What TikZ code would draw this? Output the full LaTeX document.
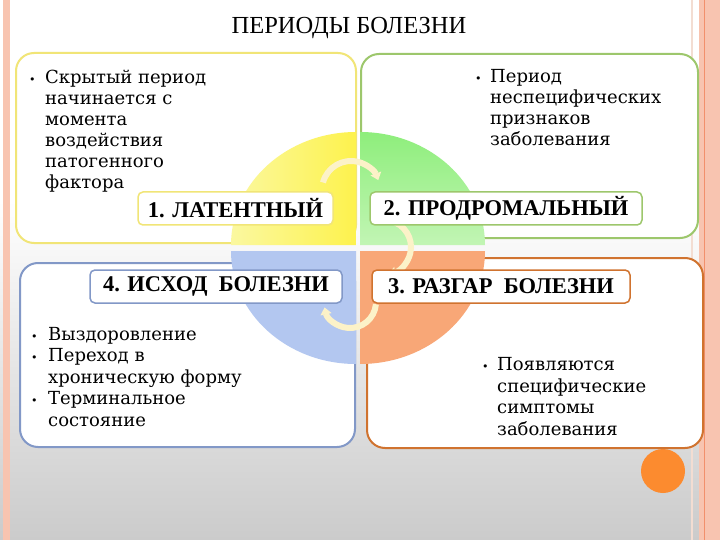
\documentclass[tikz,border=0pt]{standalone}
\usepackage{fontspec}
\setmainfont{DejaVu Serif}
\newfontfamily\bodyf{DejaVu Serif}
\newfontfamily\tnr{Liberation Serif}
\usetikzlibrary{arrows.meta}
\definecolor{bggray}{HTML}{CBCBCB}
\definecolor{pinkband}{HTML}{F8C4B0}
\definecolor{orline}{HTML}{F2906C}
\definecolor{paleline}{HTML}{F3DDD2}
\definecolor{ybord}{HTML}{F1E577}
\definecolor{gbord}{HTML}{9DC76C}
\definecolor{bbord}{HTML}{8298C7}
\definecolor{obord}{HTML}{D0732F}
\definecolor{yq}{HTML}{FDF24D}
\definecolor{yqlight}{HTML}{FBF8A0}
\definecolor{gq}{HTML}{8EEE7C}
\definecolor{gqlight}{HTML}{C2F5B4}
\definecolor{bq}{HTML}{B3C7F0}
\definecolor{oq}{HTML}{F8A777}
\definecolor{arccol}{HTML}{FCF2C8}
\definecolor{dotorange}{HTML}{FC8B2F}
\begin{document}
\begin{tikzpicture}[x=1pt,y=-1pt,
  bigbox/.style={line width=2, rounded corners=18, fill=white},
  lab/.style={draw, line width=1.5, rounded corners=5, fill=white, minimum height=33, inner sep=0,
    font=\tnr\bfseries\fontsize{22.5}{24}\selectfont},
  body/.style={anchor=north west, inner sep=0, align=left},
  arcst/.style={draw=arccol, line width=6, -{Triangle[length=7pt,width=11pt]}},
]
\useasboundingbox (0,0) rectangle (720,540);
% background
\fill[white] (0,0) rectangle (720,540);
\shade[top color=white, bottom color=bggray] (0,200) rectangle (720,540);
\fill[pinkband] (3,0) rectangle (10,540);
\draw[paleline, line width=1.5] (692,0) -- (692,540);
\fill[pinkband] (699,0) rectangle (720,540);
\draw[orline, line width=1] (704,0) -- (704,540);
% title
\node[font=\tnr\fontsize{24.5}{26}\selectfont] (title) at (349,28) {ПЕРИОДЫ БОЛЕЗНИ};
% orange dot
\fill[dotorange] (663,471) circle (22);
% big boxes
\draw[bigbox, draw=ybord] (16,53) rectangle (356,243);
\draw[bigbox, draw=gbord] (361,54) rectangle (698,238);
\draw[bigbox, draw=bbord] (20,263) rectangle (355,447);
\draw[bigbox, draw=obord] (367,258) rectangle (703,448);
% circle quadrants
\shade[left color=yqlight, right color=yq] (356,245) -- ++(-125,0) arc[start angle=180, end angle=270, x radius=125, y radius=113] -- cycle;
\shade[top color=gq, bottom color=gqlight] (360,245) -- ++(0,-113) arc[start angle=270, end angle=360, x radius=125, y radius=113] -- cycle;
\fill[bq] (356,251) -- ++(-125,0) arc[start angle=180, end angle=90, x radius=125, y radius=113] -- cycle;
\fill[oq] (360,251) -- ++(125,0) arc[start angle=0, end angle=90, x radius=125, y radius=113] -- cycle;
% circular arrows
\draw[arcst] (351,190) ++(195:29) arc[start angle=195, end angle=340, radius=29];
\draw[arcst] (384,247) ++(-77:27) arc[start angle=-77, end angle=81, radius=27];
\draw[arcst] (350,302) ++(5:26) arc[start angle=5, end angle=168, radius=26];
% labels
\node[lab, draw=ybord, minimum width=195] (l1) at (235.5,208.5) {1. ЛАТЕНТНЫЙ};
\node[lab, draw=gbord, minimum width=272] (l2) at (506,208.5) {2. ПРОДРОМАЛЬНЫЙ};
\node[lab, draw=bbord, minimum width=252] (l4) at (216,286.5) {4. ИСХОД\ \ БОЛЕЗНИ};
\node[lab, draw=obord, minimum width=258] (l3) at (501,286.5) {3. РАЗГАР\ \ БОЛЕЗНИ};
% body texts
\node[body, font=\bodyf\fontsize{18}{21}\selectfont] (t1) at (29,68.3) {%
\begin{tabular}{@{}p{16pt}@{}l@{}}
{\fontsize{11}{21}\selectfont •} & Скрытый период\\
 & начинается с\\
 & момента\\
 & воздействия\\
 & патогенного\\
 & фактора
\end{tabular}};
\node[body, font=\bodyf\fontsize{18}{21}\selectfont] (t2) at (475,67.3) {%
\begin{tabular}{@{}p{15pt}@{}l@{}}
{\fontsize{11}{21}\selectfont •} & Период\\
 & неспецифических\\
 & признаков\\
 & заболевания
\end{tabular}};
\node[body, font=\bodyf\fontsize{18}{21.5}\selectfont] (t4) at (31,325) {%
\begin{tabular}{@{}p{17pt}@{}l@{}}
{\fontsize{11}{21}\selectfont •} & Выздоровление\\
{\fontsize{11}{21}\selectfont •} & Переход в\\
 & хроническую форму\\
{\fontsize{11}{21}\selectfont •} & Терминальное\\
 & состояние
\end{tabular}};
\node[body, font=\bodyf\fontsize{18}{21.7}\selectfont] (t3) at (482,355) {%
\begin{tabular}{@{}p{15pt}@{}l@{}}
{\fontsize{11}{21}\selectfont •} & Появляются\\
 & специфические\\
 & симптомы\\
 & заболевания
\end{tabular}};
\end{tikzpicture}
\end{document}
